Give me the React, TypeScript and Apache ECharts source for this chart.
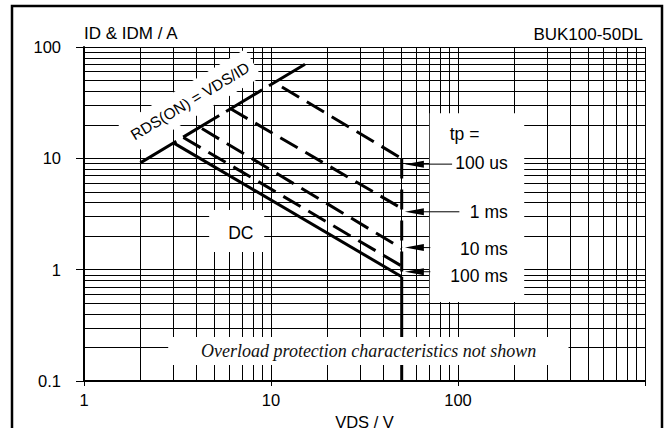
import React, { useEffect, useRef } from "react";
import * as echarts from "echarts";

// ---- data (volts, amps) ----
const rdsLine = [[2, 9.11], [15.4, 71.0]];
const dcLine = [[3.01, 13.77], [50, 0.864]];
const pulse100ms = [[3.4, 15.4], [50, 1.077]];
const pulse10ms = [[4.27, 18.5], [50, 1.553]];
const pulse1ms = [[6.05, 28.0], [50, 3.55]];
const pulse100us = [[11.44, 43.8], [50, 9.97]];
const vdsMaxDashed = [[50, 9.97], [50, 0.864]];
const vdsMaxSolid = [[50, 0.864], [50, 0.1]];

const xTickLabels = ["1", "10", "100"];
const yTickLabels = ["0.1", "1", "10", "100"];

// annotation anchors (data units)
const labelTexts = ["tp =", "100 us", "1 ms", "10 ms", "100 ms", "DC"];
const labelX = [90.3, 184.5, 184.5, 184.5, 184.5, 6.9];
const labelY = [16.5, 8.99, 3.31, 1.52, 0.882, 2.14];
const labelAlign = ["left", "right", "right", "right", "right", "center"];

const arrowY = [8.87, 3.31, 1.579, 0.958];
const arrowTailX = [93, 101.7, 71.1, 71.1];
const arrowTipX = 52;

// white boxes [x0, y0, x1, y1]
const boxTp = [70.6, 25.4, 226, 0.512];
const boxDC = [4.67, 3.43, 9.2, 1.44];
const boxOverload = [2.82, 0.248, 390, 0.139];

const rdsLabel = "RDS(ON) = VDS/ID";
const rdsLabelPos = [3.69, 32.7];
const overloadLabel = "Overload protection characteristics not shown";
const overloadLabelPos = [33.3, 0.186];

const FONT = "Liberation Sans, Arial, sans-serif";

export default function App() {
  const ref = useRef<HTMLDivElement>(null);
  useEffect(() => {
    if (!ref.current) return;
    const chart = echarts.init(ref.current, undefined, { renderer: "svg" });

    const lineSeries = (data: number[][], dash: any, width = 3) => ({
      type: "line",
      data,
      symbol: "none",
      showSymbol: false,
      silent: true,
      z: 3,
      lineStyle: { color: "#000", width, type: dash, cap: "butt" },
    });

    const boxSeries = (box: number[], z: number) => ({
      type: "custom",
      z,
      silent: true,
      data: [box],
      encode: { x: [0, 2], y: [1, 3] },
      renderItem: (params: any, api: any) => {
        const p0 = api.coord([api.value(0), api.value(1)]);
        const p1 = api.coord([api.value(2), api.value(3)]);
        return {
          type: "rect",
          shape: {
            x: Math.min(p0[0], p1[0]),
            y: Math.min(p0[1], p1[1]),
            width: Math.abs(p1[0] - p0[0]),
            height: Math.abs(p1[1] - p0[1]),
          },
          style: { fill: "#fff" },
        };
      },
    });

    const tickText = { color: "#000", fontSize: 16.5, fontFamily: FONT };
    const nameText = { color: "#000", fontSize: 17, fontFamily: FONT };

    chart.setOption({
      animation: false,
      grid: {
        left: 84,
        right: 22,
        top: 47,
        bottom: 47,
        containLabel: false,
        outerBoundsMode: "none",
      },
      title: {
        text: "BUK100-50DL",
        right: 19,
        top: 21,
        textStyle: { ...nameText, fontWeight: "normal" },
      },
      xAxis: {
        type: "log",
        logBase: 10,
        min: 1,
        max: 1000,
        name: "VDS / V",
        nameLocation: "middle",
        nameGap: 28,
        nameTextStyle: { ...nameText, fontSize: 16.5 },
        axisLine: { show: true, lineStyle: { color: "#000", width: 2 } },
        axisTick: { show: true, length: 5, lineStyle: { color: "#000", width: 1 } },
        axisLabel: {
          ...tickText,
          margin: 10.5,
          formatter: (v: number) => {
            const i = Math.round(Math.log10(v));
            return xTickLabels[i] ?? "";
          },
        },
        splitLine: { show: true, lineStyle: { color: "#000", width: 1 } },
        minorTick: { show: false, splitNumber: 9 },
        minorSplitLine: { show: true, lineStyle: { color: "#000", width: 1 } },
      },
      yAxis: {
        type: "log",
        logBase: 10,
        min: 0.1,
        max: 100,
        name: "ID & IDM / A",
        nameLocation: "end",
        nameGap: 5,
        nameTextStyle: { ...nameText, align: "left", verticalAlign: "bottom" },
        axisLine: { show: true, lineStyle: { color: "#000", width: 2 } },
        axisTick: { show: true, length: 8, lineStyle: { color: "#000", width: 1 } },
        axisLabel: {
          ...tickText,
          margin: 23,
          formatter: (v: number) => {
            const i = Math.round(Math.log10(v)) + 1;
            return yTickLabels[i] ?? "";
          },
        },
        splitLine: { show: true, lineStyle: { color: "#000", width: 1 } },
        minorTick: { show: false, splitNumber: 9 },
        minorSplitLine: { show: true, lineStyle: { color: "#000", width: 1 } },
      },
      graphic: [
        {
          type: "rect",
          silent: true,
          z: 100,
          shape: { x: 12, y: 6, width: 650, height: 440 },
          style: { fill: "none", stroke: "#000", lineWidth: 2.5 },
        },
      ],
      series: [
        boxSeries(boxTp, 2),
        boxSeries(boxDC, 2),
        lineSeries(rdsLine, [42, 8], 3),
        lineSeries(dcLine, "solid", 3),
        lineSeries(pulse100ms, [20, 9], 3),
        lineSeries(pulse10ms, [20, 9], 3),
        lineSeries(pulse1ms, [20, 9], 3),
        lineSeries(pulse100us, [20, 9], 3),
        lineSeries(vdsMaxDashed, [20, 11], 3),
        lineSeries(vdsMaxSolid, "solid", 3),
        boxSeries(boxOverload, 5),
        {
          type: "custom",
          z: 6,
          silent: true,
          data: [rdsLabelPos],
          renderItem: (params: any, api: any) => {
            const p = api.coord([api.value(0), api.value(1)]);
            return {
              type: "text",
              x: p[0],
              y: p[1],
              rotation: (31 * Math.PI) / 180,
              style: {
                text: rdsLabel,
                fill: "#000",
                fontSize: 15.5,
                fontFamily: FONT,
                align: "center",
                verticalAlign: "middle",
                backgroundColor: "#fff",
                padding: [8, 6],
              },
            };
          },
        },
        {
          type: "custom",
          z: 6,
          silent: true,
          data: [overloadLabelPos],
          renderItem: (params: any, api: any) => {
            const p = api.coord([api.value(0), api.value(1)]);
            return {
              type: "text",
              x: p[0],
              y: p[1],
              style: {
                text: overloadLabel,
                fill: "#111",
                fontSize: 18,
                fontStyle: "italic",
                fontFamily: "Liberation Serif, Times New Roman, serif",
                align: "center",
                verticalAlign: "middle",
              },
            };
          },
        },
        {
          type: "custom",
          z: 6,
          silent: true,
          data: labelX.map((x, i) => [x, labelY[i]]),
          renderItem: (params: any, api: any) => {
            const p = api.coord([api.value(0), api.value(1)]);
            const i = params.dataIndex;
            return {
              type: "text",
              x: p[0],
              y: p[1],
              style: {
                text: labelTexts[i],
                fill: "#000",
                fontSize: 17.5,
                fontFamily: FONT,
                align: labelAlign[i],
                verticalAlign: "middle",
              },
            };
          },
        },
        {
          type: "custom",
          z: 7,
          silent: true,
          data: arrowY.map((y, i) => [arrowTailX[i], y]),
          renderItem: (params: any, api: any) => {
            const tail = api.coord([api.value(0), api.value(1)]);
            const tip = api.coord([arrowTipX, api.value(1)]);
            return {
              type: "group",
              children: [
                {
                  type: "line",
                  shape: { x1: tip[0] + 10, y1: tip[1], x2: tail[0], y2: tail[1] },
                  style: { stroke: "#000", lineWidth: 1 },
                },
                {
                  type: "polygon",
                  shape: {
                    points: [
                      [tip[0], tip[1]],
                      [tip[0] + 19, tip[1] - 3.5],
                      [tip[0] + 19, tip[1] + 3.5],
                    ],
                  },
                  style: { fill: "#000" },
                },
              ],
            };
          },
        },
      ],
    });
    return () => chart.dispose();
  }, []);
  return (
    <div
      ref={ref}
      style={{ position: "absolute", left: 0, top: 0, width: 667, height: 428 }}
    />
  );
}
